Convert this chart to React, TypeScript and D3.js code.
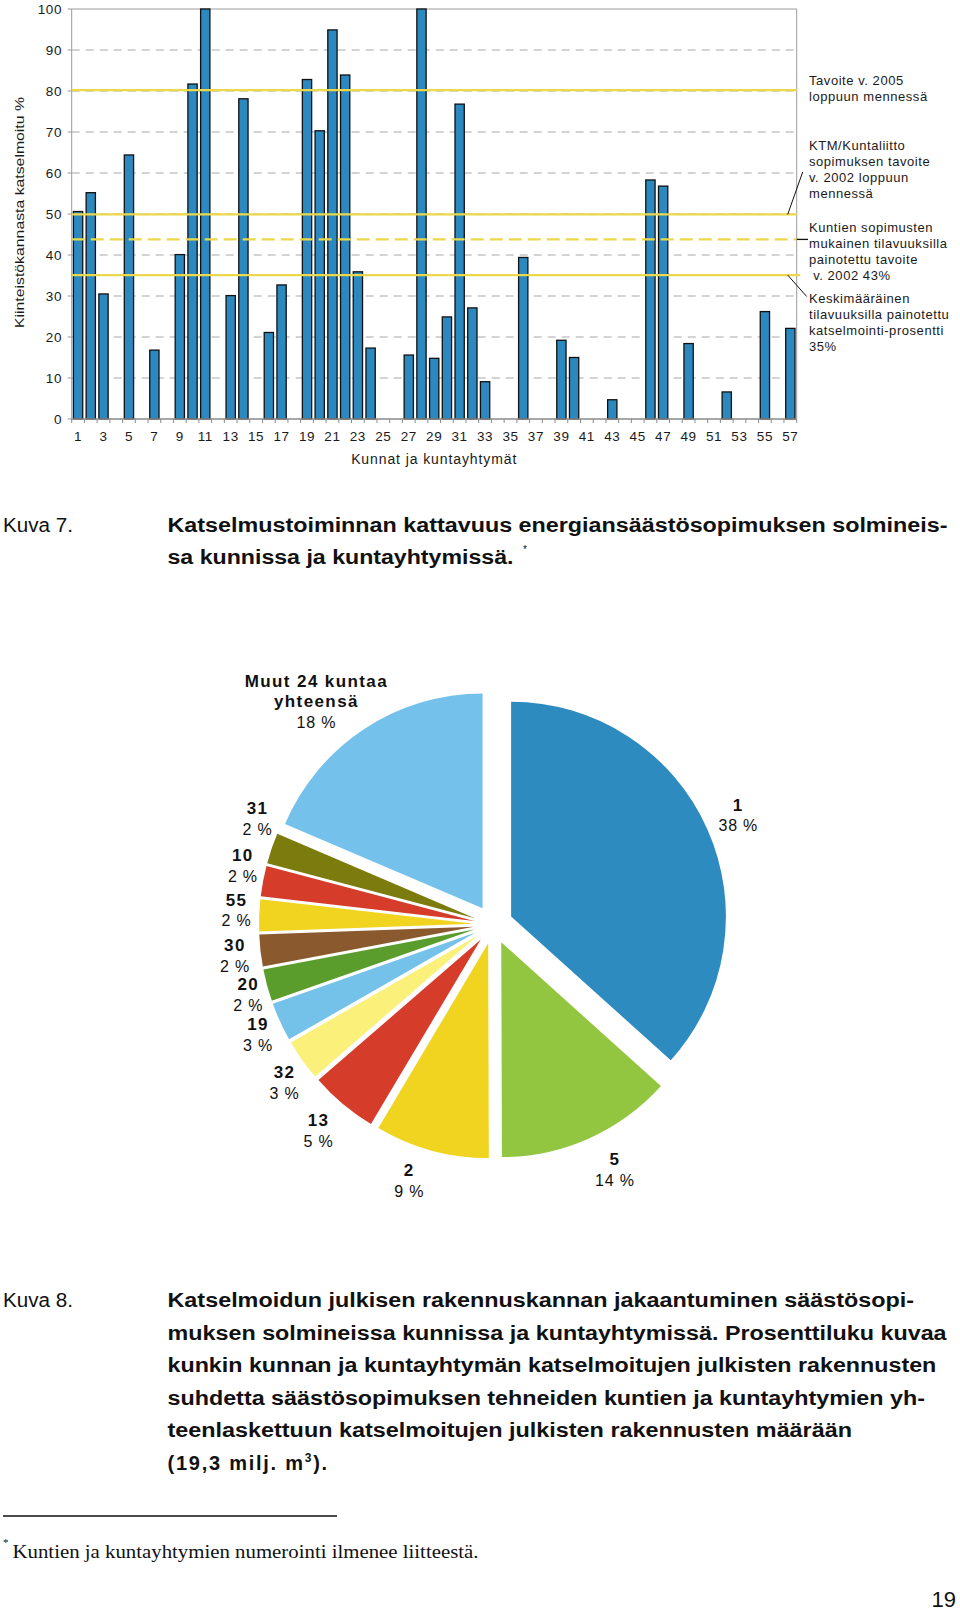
import React from "react";
import * as d3 from "d3";

// ---------- Data: bar chart (Kuva 7) ----------
const municipalities: number[] = [
  1, 2, 3, 4, 5, 6, 7, 8, 9, 10, 11, 12, 13, 14, 15, 16, 17, 18, 19, 20,
  21, 22, 23, 24, 25, 26, 27, 28, 29, 30, 31, 32, 33, 34, 35, 36, 37, 38, 39, 40,
  41, 42, 43, 44, 45, 46, 47, 48, 49, 50, 51, 52, 53, 54, 55, 56, 57,
];
const coverage: (number | null)[] = [
  50.6, 55.2, 30.5, null, 64.4, null, 16.8, null, 40.1, 81.7,
  100, null, 30.1, 78.1, null, 21.1, 32.7, null, 82.8, 70.3,
  94.9, 83.9, 35.9, 17.3, null, null, 15.6, 100, 14.8, 24.9,
  76.8, 27.1, 9.1, null, null, 39.4, null, null, 19.2, 15.0,
  null, null, 4.7, null, null, 58.3, 56.8, null, 18.4, null,
  null, 6.6, null, null, 26.2, null, 22.1,
];
const yTickValues = [0, 10, 20, 30, 40, 50, 60, 70, 80, 90, 100];
const xTickLabels = [1, 3, 5, 7, 9, 11, 13, 15, 17, 19, 21, 23, 25, 27, 29, 31, 33, 35, 37, 39, 41, 43, 45, 47, 49, 51, 53, 55, 57];

const targetValues = [80.2, 49.9, 43.8, 35.1];
const targetDashed = [false, false, true, false];

const legendTexts: string[][] = [
  ["Tavoite v. 2005", "loppuun mennessä"],
  ["KTM/Kuntaliitto", "sopimuksen tavoite", "v. 2002 loppuun", "mennessä"],
  ["Kuntien sopimusten", "mukainen tilavuuksilla", "painotettu tavoite", " v. 2002 43%"],
  ["Keskimääräinen", "tilavuuksilla painotettu", "katselmointi-prosentti", "35%"],
];

const yAxisTitle = "Kiinteistökannasta katselmoitu %";
const xAxisTitle = "Kunnat ja kuntayhtymät";

// ---------- Data: pie chart (Kuva 8) ----------
const pieNames = ["1", "5", "2", "13", "32", "19", "20", "30", "55", "10", "31", "Muut 24 kuntaa|yhteensä"];
const pieShares = [36.7, 13.3, 8.6, 5.1, 3.1, 2.9, 2.4, 2.4, 2.4, 2.3, 2.3, 18.6];
const piePercents = ["38 %", "14 %", "9 %", "5 %", "3 %", "3 %", "2 %", "2 %", "2 %", "2 %", "2 %", "18 %"];
const pieColors = [
  "#2e8bbf", "#93c640", "#f0d420", "#d53c2a", "#fbf07a", "#74c1ea",
  "#5b9d2c", "#8a5a2e", "#f0d420", "#d53c2a", "#7c7b0e", "#74c2ec",
];

// ---------- Texts ----------
const caption7 = [
  "Katselmustoiminnan kattavuus energiansäästösopimuksen solmineis-",
  "sa kunnissa ja kuntayhtymissä.",
];
const caption8 = [
  "Katselmoidun julkisen rakennuskannan jakaantuminen säästösopi-",
  "muksen solmineissa kunnissa ja kuntayhtymissä. Prosenttiluku kuvaa",
  "kunkin kunnan ja kuntayhtymän katselmoitujen julkisten rakennusten",
  "suhdetta säästösopimuksen tehneiden kuntien ja kuntayhtymien yh-",
  "teenlaskettuun katselmoitujen julkisten rakennusten määrään",
];
const footnote = "Kuntien ja kuntayhtymien numerointi ilmenee liitteestä.";

// ---------- Layout ----------
const SANS = "'Liberation Sans', Arial, Helvetica, sans-serif";
const SERIF = "'Liberation Serif', 'Times New Roman', serif";
const plot = { left: 71.7, right: 796.7, top: 9, bottom: 419 };
const legendX = 809;
const legendStartY = [80.5, 145, 227, 298.5];
const legendLineH = 16;
const caption8Ends = [914, 946.6, 936.3, 925, 852];
const pieCenter = { x: 493.3, y: 924.5 };
const pieR = 214.8;
const explode = 19.5;
const labelR = 262;
const labelNudge: Record<string, [number, number]> = {
  "1": [2, -1],
  "5": [13, 2],
  "2": [-14, 0],
  "13": [-4, 2],
  "32": [5, 7],
  "19": [3, 1],
  "20": [8, 2],
  "30": [2, 2],
  "55": [5, -4],
  "10": [7, -10],
  "31": [12, -21],
  "Muut 24 kuntaa|yhteensä": [-27, 4],
};

export default function App() {
  const x = d3
    .scaleBand<string>()
    .domain(municipalities.map(String))
    .range([plot.left, plot.right])
    .paddingInner(0.27)
    .paddingOuter(0.135);
  const y = d3.scaleLinear().domain([0, 100]).range([plot.bottom, plot.top]);
  const step = x.step();
  const boundaries = d3.range(municipalities.length + 1).map((i) => plot.left + i * step);

  const arcs = d3.pie<number>().sort(null).value((d) => d)(pieShares);
  const arcGen = d3.arc<d3.PieArcDatum<number>>().innerRadius(0).outerRadius(pieR);

  const barData = municipalities
    .map((m, i) => ({ m, v: coverage[i] }))
    .filter((d) => d.v !== null) as { m: number; v: number }[];

  const legendStyle = { fontFamily: SANS, fontSize: 13, letterSpacing: 0.55, fill: "#1a1a1a" } as const;

  return (
    <div style={{ position: "absolute", left: 0, top: 0, width: 960, height: 1612, background: "#fff" }}>
      <svg width={960} height={1612} viewBox="0 0 960 1612" style={{ display: "block" }}>
        <rect x={0} y={0} width={960} height={1612} fill="#fff" />

        {/* grid lines */}
        {yTickValues
          .filter((t) => t > 0 && t < 100)
          .map((t) => (
            <line key={"g" + t} x1={plot.left} x2={plot.right} y1={y(t)} y2={y(t)}
              stroke="#a8a8a8" strokeWidth={1} strokeDasharray="8 6" />
          ))}
        {/* frame */}
        <line x1={plot.left} x2={plot.right} y1={plot.top} y2={plot.top} stroke="#9a9a9a" strokeWidth={1} />
        <line x1={plot.right} x2={plot.right} y1={plot.top} y2={plot.bottom} stroke="#9a9a9a" strokeWidth={1} />
        <line x1={plot.left} x2={plot.left} y1={plot.top} y2={plot.bottom} stroke="#9a9a9a" strokeWidth={1} />
        {/* left ticks */}
        {yTickValues.map((t) => (
          <line key={"lt" + t} x1={plot.left - 4} x2={plot.left} y1={y(t)} y2={y(t)} stroke="#9a9a9a" strokeWidth={1} />
        ))}

        {/* bars */}
        {barData.map((d) => (
          <rect key={"b" + d.m} x={x(String(d.m))} y={y(d.v)} width={x.bandwidth()} height={plot.bottom - y(d.v)}
            fill="#2b89bf" stroke="#111" strokeWidth={1.3} />
        ))}

        {/* bottom axis */}
        <line x1={plot.left} x2={plot.right} y1={plot.bottom} y2={plot.bottom} stroke="#8a8a8a" strokeWidth={1.3} />
        {boundaries.map((bx, i) => (
          <line key={"bt" + i} x1={bx} x2={bx} y1={plot.bottom} y2={plot.bottom + 4} stroke="#8a8a8a" strokeWidth={1} />
        ))}

        {/* target lines */}
        {targetValues.map((v, i) => (
          <line key={"tl" + i} x1={plot.left} x2={i === 3 ? plot.right + 3.5 : plot.right} y1={y(v)} y2={y(v)}
            stroke="#ecd84a" strokeWidth={2.2} strokeDasharray={targetDashed[i] ? "13 6" : undefined} />
        ))}

        {/* leaders */}
        <line x1={787.7} y1={y(targetValues[1])} x2={802.7} y2={172} stroke="#111" strokeWidth={1} />
        <line x1={plot.right} y1={y(targetValues[2])} x2={808} y2={y(targetValues[2])} stroke="#111" strokeWidth={1.3} />
        <line x1={787.7} y1={y(targetValues[3])} x2={806.7} y2={296.5} stroke="#111" strokeWidth={1} />

        {/* legend texts */}
        {legendTexts.map((lines, gi) =>
          lines.map((t, li) => (
            <text key={"lg" + gi + "-" + li} x={legendX} y={legendStartY[gi] + li * legendLineH + 4.6}
              style={{ ...legendStyle, whiteSpace: "pre" }}>
              {t}
            </text>
          ))
        )}

        {/* y tick labels */}
        {yTickValues.map((t) => (
          <text key={"yl" + t} x={62} y={y(t) + 4.8} textAnchor="end"
            style={{ fontFamily: SANS, fontSize: 13.5, letterSpacing: 0.6, fill: "#1a1a1a" }}>
            {t}
          </text>
        ))}
        {/* x tick labels */}
        {xTickLabels.map((c) => (
          <text key={"xl" + c} x={(x(String(c)) as number) + x.bandwidth() / 2} y={441} textAnchor="middle"
            style={{ fontFamily: SANS, fontSize: 13.5, letterSpacing: 0.6, fill: "#1a1a1a" }}>
            {c}
          </text>
        ))}
        {/* axis titles */}
        <text x={(plot.left + plot.right) / 2} y={464} textAnchor="middle"
          style={{ fontFamily: SANS, fontSize: 14, letterSpacing: 0.9, fill: "#1a1a1a" }}>
          {xAxisTitle}
        </text>
        <text transform="translate(23.5,212.5) rotate(-90)" textAnchor="middle" textLength={231} lengthAdjust="spacingAndGlyphs"
          style={{ fontFamily: SANS, fontSize: 13.5, fill: "#1a1a1a" }}>
          {yAxisTitle}
        </text>

        {/* caption 7 */}
        <text x={3} y={532} textLength={70} lengthAdjust="spacingAndGlyphs"
          style={{ fontFamily: SANS, fontSize: 20, fill: "#111" }}>Kuva 7.</text>
        <text x={167.5} y={532} textLength={780} lengthAdjust="spacingAndGlyphs"
          style={{ fontFamily: SANS, fontSize: 20, fontWeight: 700, fill: "#111" }}>{caption7[0]}</text>
        <text x={167.5} y={563.5} textLength={346} lengthAdjust="spacingAndGlyphs"
          style={{ fontFamily: SANS, fontSize: 20, fontWeight: 700, fill: "#111" }}>{caption7[1]}</text>
        <text x={523} y={553} style={{ fontFamily: SANS, fontSize: 10, fill: "#111" }}>*</text>

        {/* pie */}
        <g transform={`translate(${pieCenter.x},${pieCenter.y})`}>
          {arcs.map((a, i) => {
            const mid = (a.startAngle + a.endAngle) / 2;
            const dx = explode * Math.sin(mid);
            const dy = -explode * Math.cos(mid);
            return (
              <path key={"p" + i} d={arcGen(a) as string} transform={`translate(${dx},${dy})`} fill={pieColors[i]} />
            );
          })}
          {arcs.map((a, i) => {
            const mid = (a.startAngle + a.endAngle) / 2;
            const name = pieNames[i];
            const nudge = labelNudge[name] || [0, 0];
            const r = name.includes("|") ? labelR + 10 : labelR + (i < 4 ? 4 : 0);
            const lx = r * Math.sin(mid) + nudge[0];
            const ly = -r * Math.cos(mid) + nudge[1];
            const nameLines = name.split("|");
            const total = nameLines.length + 1;
            const lh = 20.8;
            const startY = ly - ((total - 1) * lh) / 2 + 5.8;
            return (
              <g key={"pl" + i}>
                {nameLines.map((nl, k) => (
                  <text key={k} x={lx} y={startY + k * lh} textAnchor="middle"
                    style={{ fontFamily: SANS, fontSize: 17, fontWeight: 700, letterSpacing: 1.4, fill: "#111" }}>
                    {nl}
                  </text>
                ))}
                <text x={lx} y={startY + nameLines.length * lh} textAnchor="middle"
                  style={{ fontFamily: SANS, fontSize: 16, letterSpacing: 0.8, fill: "#111" }}>
                  {piePercents[i]}
                </text>
              </g>
            );
          })}
        </g>

        {/* caption 8 */}
        <text x={3} y={1307} textLength={70} lengthAdjust="spacingAndGlyphs"
          style={{ fontFamily: SANS, fontSize: 20, fill: "#111" }}>Kuva 8.</text>
        {caption8.map((t, i) => (
          <text key={"c8" + i} x={167.5} y={1307 + i * 32.5} textLength={caption8Ends[i] - 167.5} lengthAdjust="spacingAndGlyphs"
            style={{ fontFamily: SANS, fontSize: 20, fontWeight: 700, fill: "#111" }}>
            {t}
          </text>
        ))}
        <text x={167.5} y={1307 + 5 * 32.5} style={{ fontFamily: SANS, fontSize: 20, fontWeight: 700, fill: "#111", letterSpacing: 1.75 }}>
          (19,3 milj. m<tspan dy={-8} fontSize={12}>3</tspan><tspan dy={8}>).</tspan>
        </text>

        {/* footnote */}
        <line x1={3} x2={337} y1={1516} y2={1516} stroke="#111" strokeWidth={1.3} />
        <text x={3} y={1546} style={{ fontFamily: SERIF, fontSize: 11, fill: "#111" }}>*</text>
        <text x={12.5} y={1558} textLength={466} lengthAdjust="spacingAndGlyphs"
          style={{ fontFamily: SERIF, fontSize: 19, fill: "#111" }}>{footnote}</text>

        {/* page number */}
        <text x={956} y={1607} textAnchor="end" style={{ fontFamily: SANS, fontSize: 22, fill: "#111" }}>19</text>
      </svg>
    </div>
  );
}
